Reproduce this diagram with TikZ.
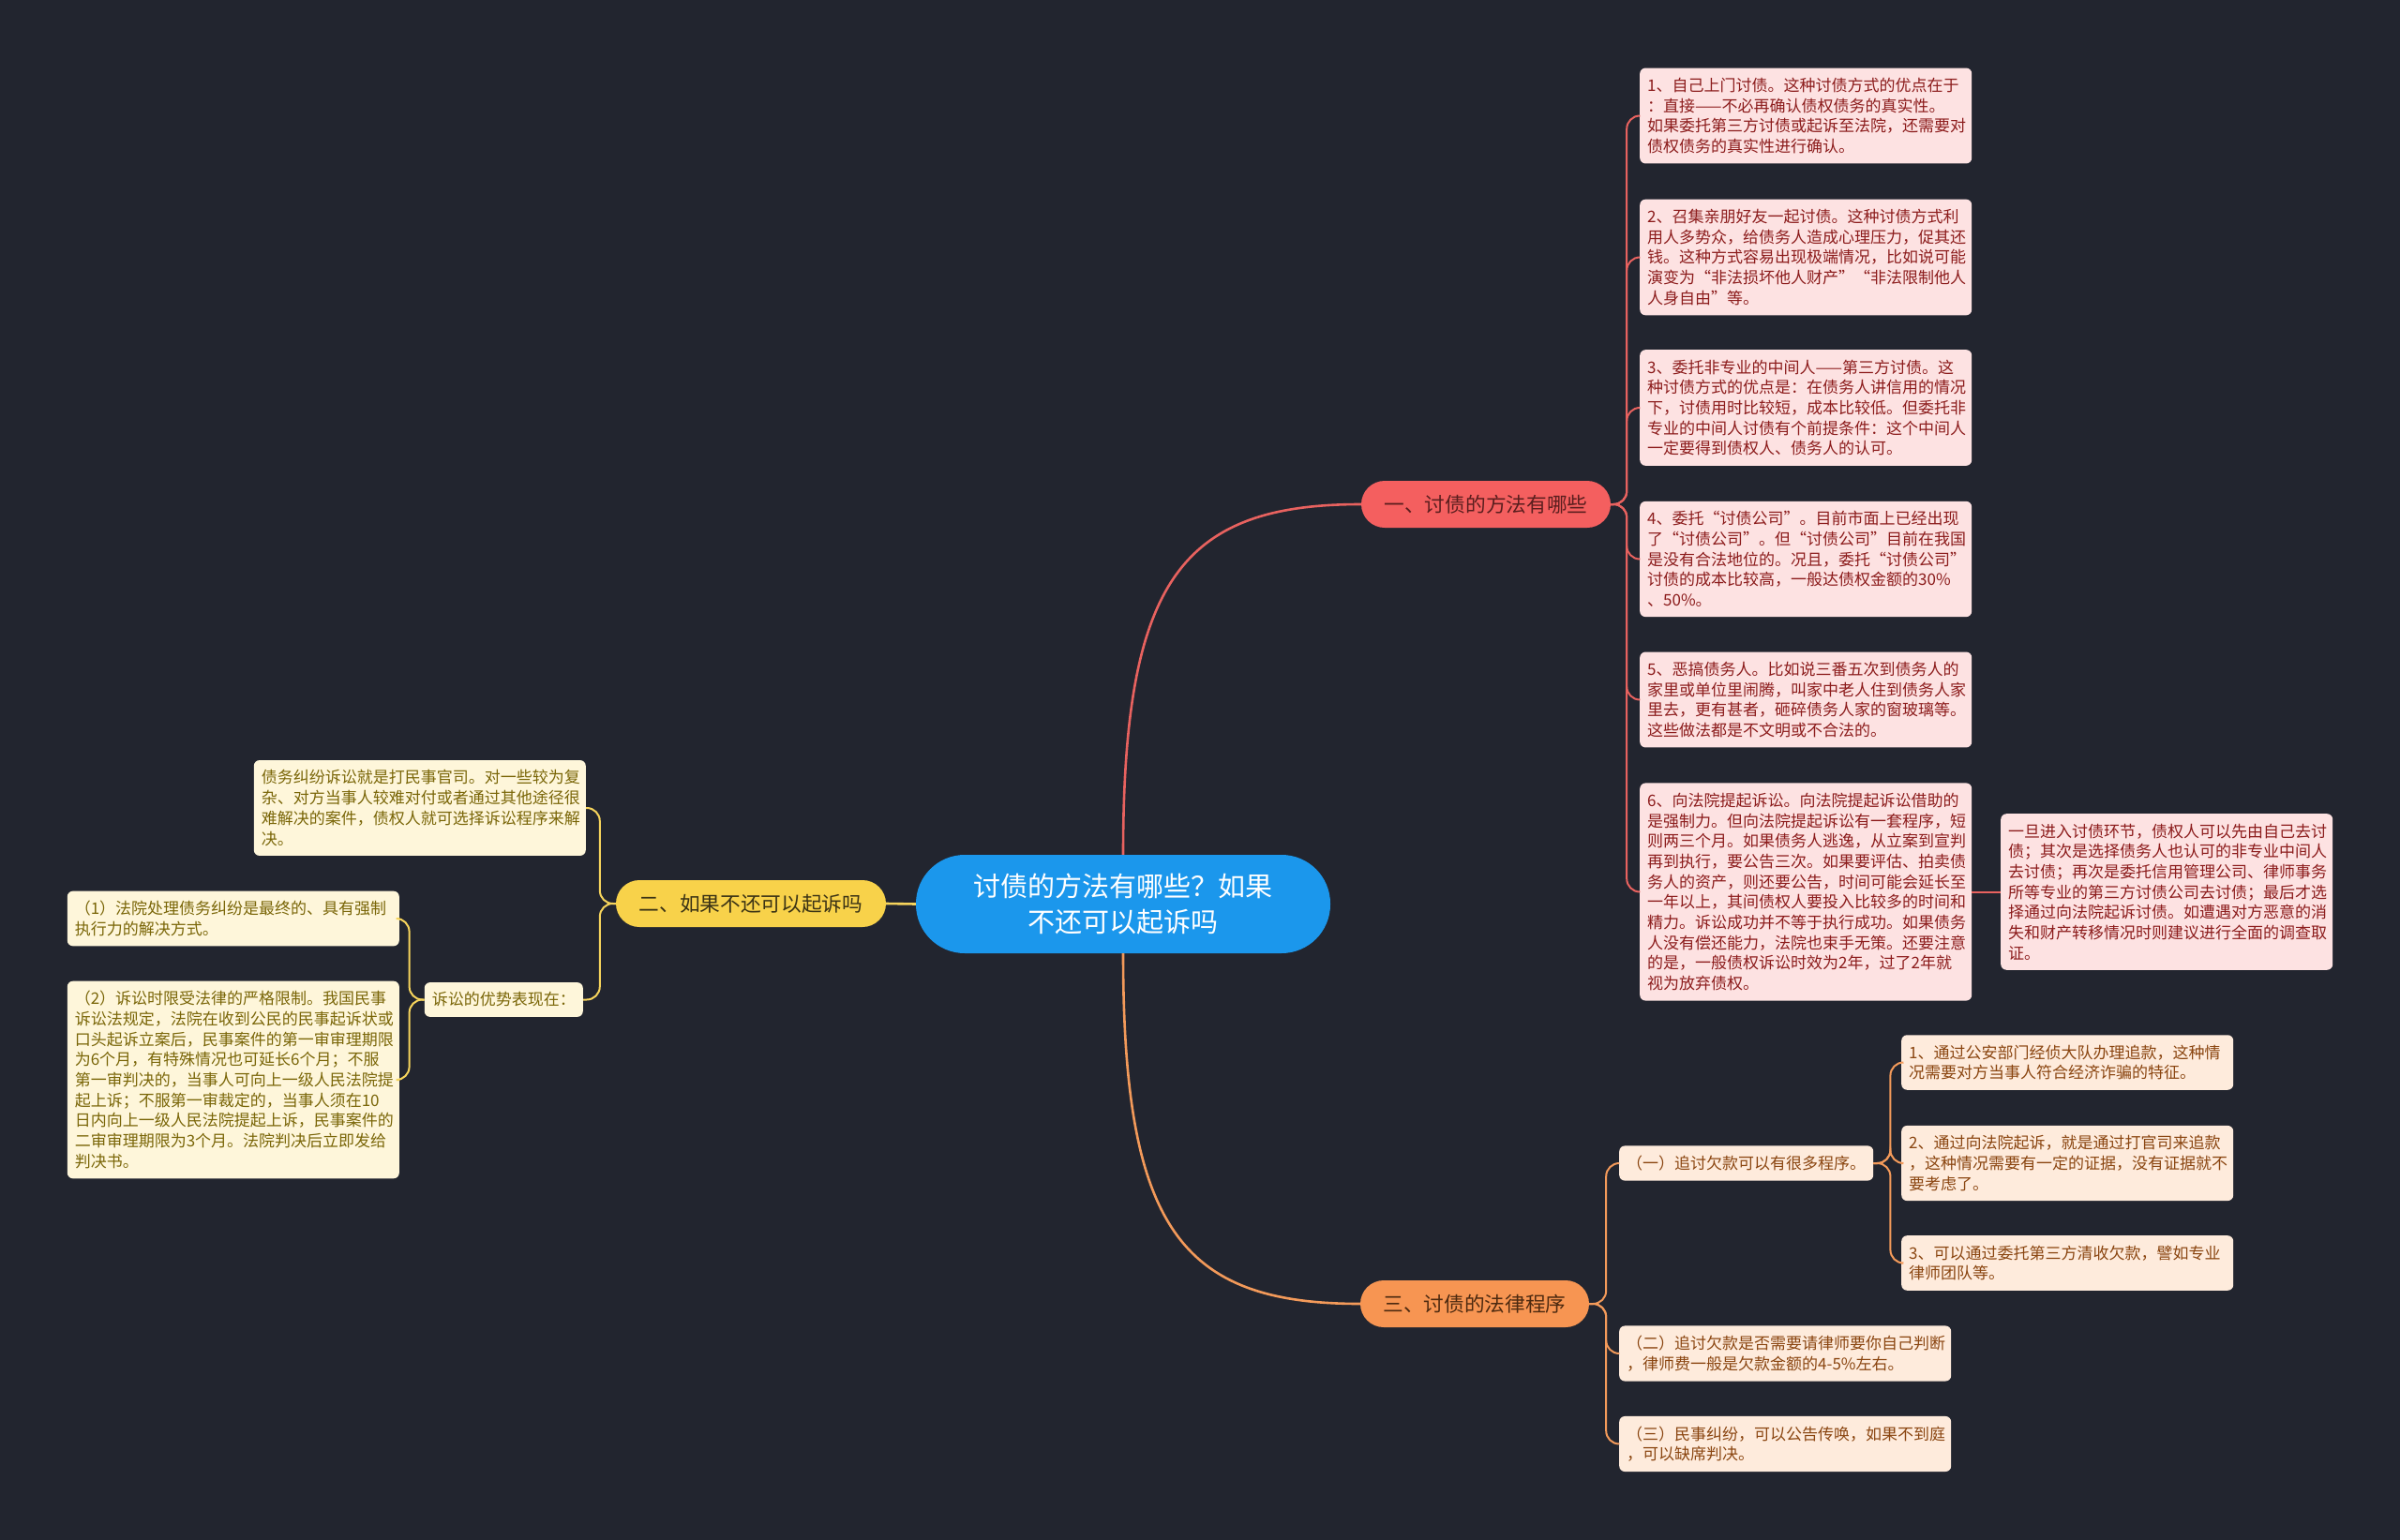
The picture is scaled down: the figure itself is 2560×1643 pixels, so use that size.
\documentclass[tikz,border=0pt]{standalone}
\usepackage{fontspec}
\setmainfont{Noto Sans CJK SC}
\definecolor{bg}{HTML}{22252F}
\definecolor{rootfill}{HTML}{1B97EC}
\definecolor{bonefill}{HTML}{F45F5F}
\definecolor{btwofill}{HTML}{F8D24A}
\definecolor{bthreefill}{HTML}{F79552}
\definecolor{bonetext}{HTML}{5A1E1E}
\definecolor{btwotext}{HTML}{3B3315}
\definecolor{bthreetext}{HTML}{4D2A10}
\definecolor{pinkfill}{HTML}{FDE2E2}
\definecolor{pinktext}{HTML}{8C1C1C}
\definecolor{peachfill}{HTML}{FEEBDC}
\definecolor{peachtext}{HTML}{8A4510}
\definecolor{yelfill}{HTML}{FEF6DA}
\definecolor{yeltext}{HTML}{7A6608}
\definecolor{boneline}{HTML}{E8625F}
\definecolor{btwoline}{HTML}{F6D45C}
\definecolor{bthreeline}{HTML}{F39A5A}
\newcommand\leaffont{\fontsize{17pt}{21.7pt}\selectfont}
\newcommand\branchfont{\fontsize{21.7pt}{26pt}\selectfont}
\newcommand\rootfont{\fontsize{29pt}{38pt}\selectfont}
\begin{document}
\begin{tikzpicture}[x=1pt,y=-1pt,
  leafbase/.style={rounded corners=6pt, inner xsep=8pt, inner ysep=10.5pt, text width=338pt, align=left, font=\leaffont},
  pinkleaf/.style={leafbase, fill=pinkfill, text=pinktext, anchor=west},
  peachleaf/.style={leafbase, fill=peachfill, text=peachtext, anchor=west},
  yelleaf/.style={leafbase, fill=yelfill, text=yeltext, anchor=west},
  shortleaf/.style={rounded corners=6pt, inner xsep=8pt, inner ysep=10.5pt, font=\leaffont},
  branchbox/.style={rounded corners=25pt, minimum height=50pt, inner xsep=6pt, inner ysep=4pt, font=\branchfont},
  conn/.style={line width=2pt, rounded corners=14pt},
  mainconn/.style={line width=2.6pt}
]
\useasboundingbox (0,0) rectangle (2560,1643);
\fill[bg] (0,0) rectangle (2560,1643);

% root and branches
\node[fill=rootfill, text=white, rounded corners=52pt, minimum width=442pt, minimum height=105pt, align=center, font=\rootfont] (root) at (1198,964.5) {讨债的方法有哪些？如果\\不还可以起诉吗};
\node[branchbox, fill=bonefill, text=bonetext, minimum width=266pt] (b1) at (1585,538) {一、讨债的方法有哪些};
\node[branchbox, fill=btwofill, text=btwotext, minimum width=288pt] (b2) at (801,964) {二、如果不还可以起诉吗};
\node[branchbox, fill=bthreefill, text=bthreetext, minimum width=244pt] (b3) at (1573,1391) {三、讨债的法律程序};

% branch one leaves
\node[pinkleaf] (L1) at (1749,123.5) {1、自己上门讨债。这种讨债方式的优点在于\\：直接——不必再确认债权债务的真实性。\\如果委托第三方讨债或起诉至法院，还需要对\\债权债务的真实性进行确认。};
\node[pinkleaf] (L2) at (1749,274.5) {2、召集亲朋好友一起讨债。这种讨债方式利\\用人多势众，给债务人造成心理压力，促其还\\钱。这种方式容易出现极端情况，比如说可能\\演变为“非法损坏他人财产”“非法限制他人\\人身自由”等。};
\node[pinkleaf] (L3) at (1749,435) {3、委托非专业的中间人——第三方讨债。这\\种讨债方式的优点是：在债务人讲信用的情况\\下，讨债用时比较短，成本比较低。但委托非\\专业的中间人讨债有个前提条件：这个中间人\\一定要得到债权人、债务人的认可。};
\node[pinkleaf] (L4) at (1749,596.5) {4、委托“讨债公司”。目前市面上已经出现\\了“讨债公司”。但“讨债公司”目前在我国\\是没有合法地位的。况且，委托“讨债公司”\\讨债的成本比较高，一般达债权金额的30\%\\、50\%。};
\node[pinkleaf] (L5) at (1749,746.5) {5、恶搞债务人。比如说三番五次到债务人的\\家里或单位里闹腾，叫家中老人住到债务人家\\里去，更有甚者，砸碎债务人家的窗玻璃等。\\这些做法都是不文明或不合法的。};
\node[pinkleaf] (L6) at (1749,951.5) {6、向法院提起诉讼。向法院提起诉讼借助的\\是强制力。但向法院提起诉讼有一套程序，短\\则两三个月。如果债务人逃逸，从立案到宣判\\再到执行，要公告三次。如果要评估、拍卖债\\务人的资产，则还要公告，时间可能会延长至\\一年以上，其间债权人要投入比较多的时间和\\精力。诉讼成功并不等于执行成功。如果债务\\人没有偿还能力，法院也束手无策。还要注意\\的是，一般债权诉讼时效为2年，过了2年就\\视为放弃债权。};
\node[pinkleaf] (S) at (2134,951.5) {一旦进入讨债环节，债权人可以先由自己去讨\\债；其次是选择债务人也认可的非专业中间人\\去讨债；再次是委托信用管理公司、律师事务\\所等专业的第三方讨债公司去讨债；最后才选\\择通过向法院起诉讨债。如遭遇对方恶意的消\\失和财产转移情况时则建议进行全面的调查取\\证。};

% branch three
\node[shortleaf, fill=peachfill, text=peachtext, anchor=west] (T1) at (1727,1241) {（一）追讨欠款可以有很多程序。};
\node[peachleaf] (G1) at (2028,1133.5) {1、通过公安部门经侦大队办理追款，这种情\\况需要对方当事人符合经济诈骗的特征。};
\node[peachleaf] (G2) at (2028,1241) {2、通过向法院起诉，就是通过打官司来追款\\，这种情况需要有一定的证据，没有证据就不\\要考虑了。};
\node[peachleaf] (G3) at (2028,1347.5) {3、可以通过委托第三方清收欠款，譬如专业\\律师团队等。};
\node[peachleaf] (T2) at (1727,1444) {（二）追讨欠款是否需要请律师要你自己判断\\，律师费一般是欠款金额的4-5\%左右。};
\node[peachleaf] (T3) at (1727,1540.5) {（三）民事纠纷，可以公告传唤，如果不到庭\\，可以缺席判决。};

% branch two
\node[yelleaf, anchor=east] (Y1) at (625,862) {债务纠纷诉讼就是打民事官司。对一些较为复\\杂、对方当事人较难对付或者通过其他途径很\\难解决的案件，债权人就可选择诉讼程序来解\\决。};
\node[shortleaf, fill=yelfill, text=yeltext, anchor=east] (Y2) at (622,1066.5) {诉讼的优势表现在：};
\node[yelleaf, anchor=east] (Y3) at (426,980) {（1）法院处理债务纠纷是最终的、具有强制\\执行力的解决方式。};
\node[yelleaf, anchor=east] (Y4) at (426,1152) {（2）诉讼时限受法律的严格限制。我国民事\\诉讼法规定，法院在收到公民的民事起诉状或\\口头起诉立案后，民事案件的第一审审理期限\\为6个月，有特殊情况也可延长6个月；不服\\第一审判决的，当事人可向上一级人民法院提\\起上诉；不服第一审裁定的，当事人须在10\\日内向上一级人民法院提起上诉，民事案件的\\二审审理期限为3个月。法院判决后立即发给\\判决书。};

% main connectors
\draw[mainconn, boneline] (root.north) .. controls +(0,-292) and +(-192,0) .. (b1.west);
\draw[mainconn, bthreeline] (root.south) .. controls +(0,292) and +(-192,0) .. (b3.west);
\draw[mainconn, btwoline] (root.west) -- (b2.east);

% branch one connectors
\foreach \n in {L1,L2,L3,L4,L5,L6}
  \draw[conn, boneline] (b1.east) -- ++(17,0) |- (\n.west);
\draw[conn, boneline] (L6.east) -- (S.west);

% branch three connectors
\foreach \n in {T1,T2,T3}
  \draw[conn, bthreeline] (b3.east) -- ++(18,0) |- (\n.west);
\foreach \n in {G1,G2,G3}
  \draw[conn, bthreeline] (T1.east) -- ++(18,0) |- (\n.west);

% branch two connectors
\foreach \n in {Y1,Y2}
  \draw[conn, btwoline] (b2.west) -- ++(-17,0) |- (\n.east);
\foreach \n in {Y3,Y4}
  \draw[conn, btwoline] (Y2.west) -- ++(-16,0) |- (\n.east);
\end{tikzpicture}
\end{document}
